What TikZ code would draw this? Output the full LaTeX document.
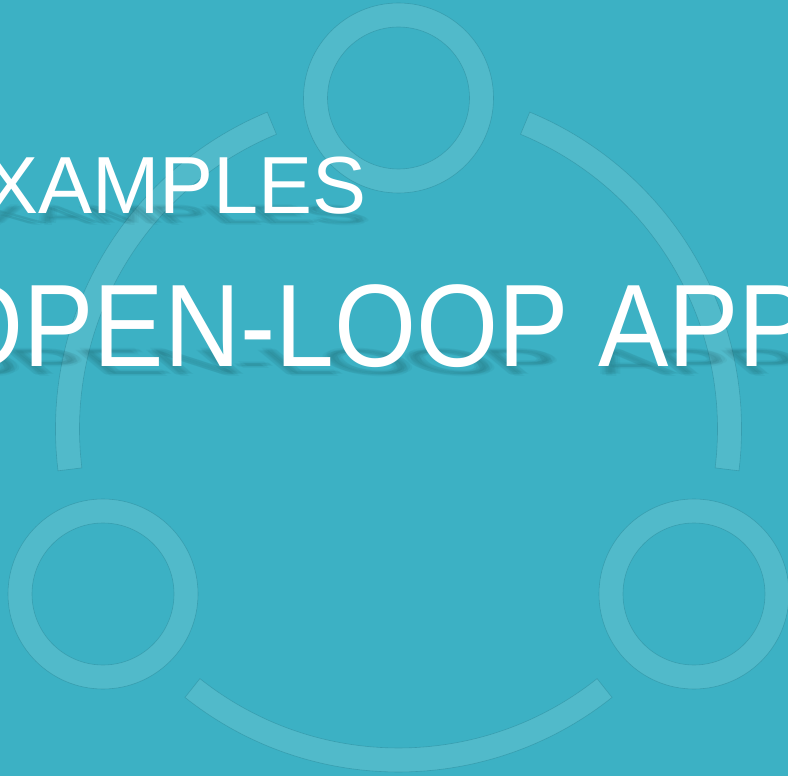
\documentclass[tikz,border=0pt]{standalone}
\usepackage{fontspec}
\newfontfamily\tf[FakeStretch=0.9]{Liberation Sans}
\newfontfamily\tfw{Liberation Sans}
\definecolor{bg}{HTML}{3CB1C4}
\definecolor{ringc}{HTML}{51BACA}
\definecolor{edgec}{HTML}{2A8899}
\begin{document}
\begin{tikzpicture}[x=1pt,y=1pt,
  ring/.style={fill=ringc, draw=edgec, draw opacity=0.5, line width=0.6pt, even odd rule},
  titletext/.style={text=white, inner sep=0pt},
  shadowtext/.style={text=black!80!teal, text opacity=0.035, inner sep=0pt, transform shape}
]
\useasboundingbox (0,0) rectangle (788,-776);
\clip (0,0) rectangle (788,-776);
\fill[bg] (0,0) rectangle (788,-776);

% centre of the big circle and ring centres
\coordinate (C) at (398.5,-429);
\coordinate (rt) at (398.5,-98);
\coordinate (rl) at (103,-594);
\coordinate (rr) at (694,-594);

% big circle segments
\path[ring] ([shift={(112.5:343)}]C) arc[start angle=112.5, end angle=187, radius=343]
  -- ([shift={(187:319)}]C) arc[start angle=187, end angle=112.5, radius=319] -- cycle;
\path[ring] ([shift={(231.5:343)}]C) arc[start angle=231.5, end angle=308.5, radius=343]
  -- ([shift={(308.5:319)}]C) arc[start angle=308.5, end angle=231.5, radius=319] -- cycle;
\path[ring] ([shift={(-7:343)}]C) arc[start angle=-7, end angle=67.5, radius=343]
  -- ([shift={(67.5:319)}]C) arc[start angle=67.5, end angle=-7, radius=319] -- cycle;

% small rings
\foreach \r in {rt,rl,rr}{
  \path[ring] (\r) circle[radius=95] (\r) circle[radius=71];
}

% soft slanted shadows of the titles
\foreach \dx/\dy in {0/0,3/1,-3/-1,1/-2,-1/2,5/0,-5/0}{
  \begin{scope}[shift={(-52+\dx,-374+\dy)}, yscale=0.3, xslant=-0.36]
    \node[shadowtext, font=\tf, anchor=base west] at (0,0) {\fontsize{117.3}{120}\selectfont OPEN-LOOP APPROACH};
  \end{scope}
  \begin{scope}[shift={(372+\dx,-223+\dy)}, yscale=0.3, xslant=-0.36]
    \node[shadowtext, font=\tfw, anchor=base east] at (0,0) {\fontsize{81}{84}\selectfont EXAMPLES};
  \end{scope}
}

% titles
\node[titletext, font=\tfw, anchor=base east] (ex) at (367,-213) {\fontsize{81}{84}\selectfont EXAMPLES};
\node[titletext, font=\tf, anchor=base west] (ol) at (-59,-366) {\fontsize{117.3}{120}\selectfont OPEN-LOOP APPROACH};
\end{tikzpicture}
\end{document}
